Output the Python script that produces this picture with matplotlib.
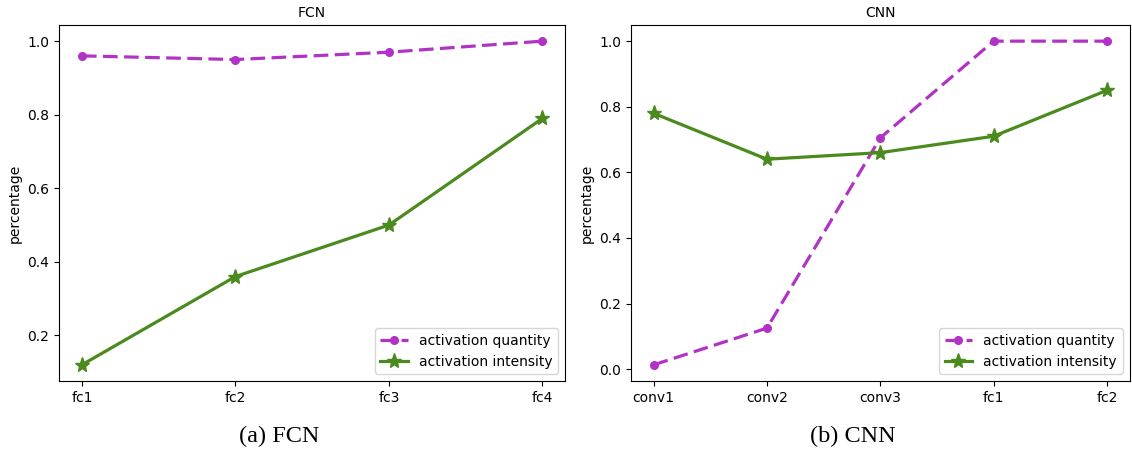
import numpy as np
import matplotlib.pyplot as plt

# data
fcn_layers = ["fc1", "fc2", "fc3", "fc4"]
fcn_quantity = [0.96, 0.95, 0.97, 1.0]
fcn_intensity = [0.12, 0.36, 0.50, 0.79]

cnn_layers = ["conv1", "conv2", "conv3", "fc1", "fc2"]
cnn_quantity = [0.013, 0.125, 0.705, 1.0, 1.0]
cnn_intensity = [0.78, 0.64, 0.66, 0.71, 0.85]

purple = "#b133c6"
green = "#4a8a1e"

plt.rcParams['font.size'] = 10

fig = plt.figure(figsize=(11.32, 4.49), dpi=100)
ax1 = fig.add_axes([0.052, 0.1514, 0.4475, 0.793])
ax2 = fig.add_axes([0.5574, 0.1514, 0.4405, 0.793])

def draw(ax, layers, quantity, intensity, title):
    x = np.arange(len(layers))
    ax.plot(x, quantity, "--", color=purple, lw=2.3, marker="o", ms=5.5,
            dashes=(4.6, 2.0), label="activation quantity")
    ax.plot(x, intensity, "-", color=green, lw=2.3, marker="*", ms=11,
            label="activation intensity")
    ax.set_xticks(x)
    ax.set_xticklabels(layers)
    ax.set_ylabel("percentage")
    ax.set_title(title, fontsize=10)
    ax.legend(loc="lower right", fontsize=10)

draw(ax1, fcn_layers, fcn_quantity, fcn_intensity, "FCN")
draw(ax2, cnn_layers, cnn_quantity, cnn_intensity, "CNN")

fig.text(0.247, 0.028, "(a) FCN", family="Liberation Serif", fontsize=17.5,
         ha="center", va="center")
fig.text(0.753, 0.028, "(b) CNN", family="Liberation Serif", fontsize=17.5,
         ha="center", va="center")

fig.savefig("out.png", dpi=100)
